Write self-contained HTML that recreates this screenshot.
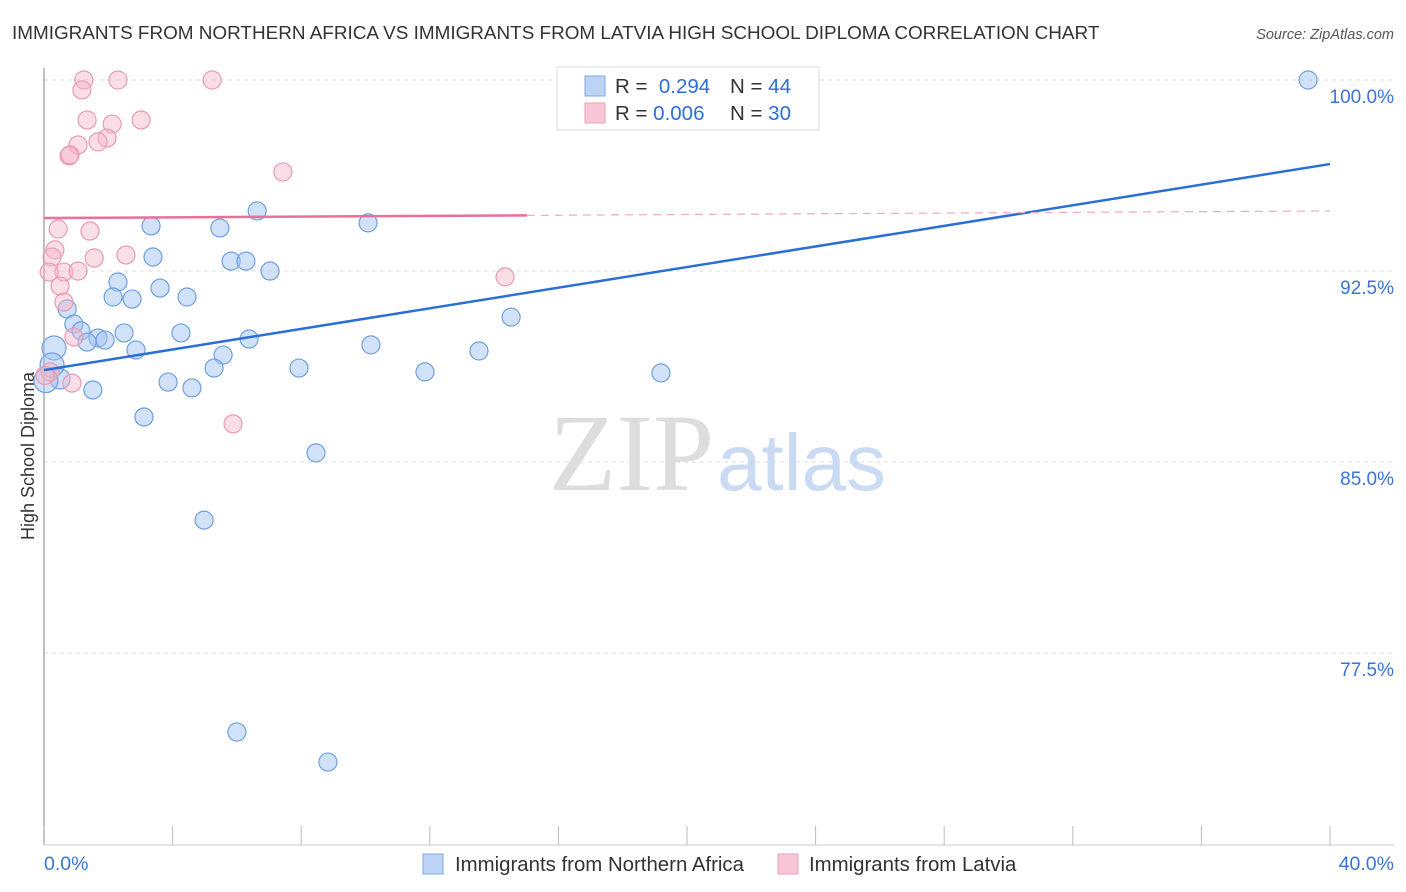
<!DOCTYPE html>
<html><head><meta charset="utf-8"><style>
body{margin:0;background:#fff;font-family:"Liberation Sans",sans-serif}
svg{display:block}
</style></head><body>
<svg id="chart" width="1406" height="892">
<text x="12" y="39" font-size="18.9" fill="#333">IMMIGRANTS FROM NORTHERN AFRICA VS IMMIGRANTS FROM LATVIA HIGH SCHOOL DIPLOMA CORRELATION CHART</text>
<text x="1394" y="39" font-size="14.5" fill="#555" text-anchor="end" font-style="italic">Source: ZipAtlas.com</text>
<g id="grid"></g>
<line x1="44" y1="68" x2="44" y2="845" stroke="#aaa" stroke-width="1.5"/>
<line x1="44" y1="845" x2="1394" y2="845" stroke="#ccc"/>
<g id="xticks"></g>
<text x="714" y="490" font-size="110" fill="#ddd" text-anchor="end" font-family="Liberation Serif,serif">ZIP</text>
<text x="717" y="490" font-size="80" fill="#c9daf2">atlas</text>
<text transform="translate(34,456) rotate(-90)" font-size="18" fill="#333" text-anchor="middle">High School Diploma</text>
<text x="44" y="870" font-size="19.5" fill="#3b74d6">0.0%</text>
<text x="1394" y="870" font-size="19.5" fill="#3b74d6" text-anchor="end">40.0%</text>
<g id="pts"></g>
<g id="lines"></g>
<g>
<rect x="557" y="67" width="262" height="63" fill="#fff" stroke="#ddd"/>
<rect x="585" y="76" width="20" height="20" fill="#bcd3f5" stroke="#7fa8e4"/>
<rect x="585" y="103" width="20" height="20" fill="#f8c6d5" stroke="#eca3ba"/>
<text x="615" y="93" font-size="20.5" fill="#333">R = <tspan fill="#2b6fd6">&#160;0.294</tspan><tspan x="730">N = </tspan><tspan fill="#2b6fd6">44</tspan></text>
<text x="615" y="120" font-size="20.5" fill="#333">R = <tspan fill="#2b6fd6">0.006</tspan><tspan x="730">N = </tspan><tspan fill="#2b6fd6">30</tspan></text>
</g>
<g>
<rect x="423" y="854" width="20" height="20" fill="#bcd3f5" stroke="#7fa8e4"/>
<text x="455" y="871" font-size="20.4" fill="#333">Immigrants from Northern Africa</text></g>
<g>
<rect x="778" y="854" width="20" height="20" fill="#f8c6d5" stroke="#eca3ba"/>
<text x="809" y="871" font-size="20.4" fill="#333">Immigrants from Latvia</text></g>
</svg>
<script>
const yTicks=[100,92.5,85,77.5];
const yTickLabels=["100.0%","92.5%","85.0%","77.5%"];
const xTicks=[0,4,8,12,16,20,24,28,32,36,40];
const blueX=[39.32,6.63,3.33,10.08,5.47,3.39,5.82,6.28,7.03,2.30,3.61,2.15,2.74,4.45,0.72,0.93,1.15,4.26,2.49,1.68,1.90,1.34,6.38,0.31,10.17,2.86,5.57,13.53,14.53,5.29,7.93,11.85,19.19,3.86,4.60,1.52,0.50,0.25,3.11,8.46,4.98,6.00,8.83,0.06];
const blueY=[100,94.86,94.27,94.39,94.19,93.05,92.89,92.89,92.5,92.07,91.83,91.48,91.4,91.48,91.01,90.42,90.15,90.07,90.07,89.87,89.79,89.71,89.83,89.48,89.6,89.4,89.2,89.36,90.69,88.69,88.69,88.54,88.5,88.14,87.91,87.83,88.26,88.81,86.77,85.36,82.72,74.4,73.22,88.2];
const blueR=[9,9,9,9,9,9,9,9,9,9,9,9,9,9,9,9,9,9,9,9,9,9,9,12,9,9,9,9,9,9,9,9,9,9,9,9,10,12,9,9,9,9,9,12];
const pinkX=[1.24,2.30,5.23,1.18,1.34,3.02,2.12,1.06,1.96,1.68,0.78,0.81,7.43,0.44,1.43,0.34,0.25,1.56,2.55,0.62,1.06,0.16,0.50,0.62,0.93,0.19,0.87,5.88,14.34,0.03];
const pinkY=[100,100,100,99.61,98.43,98.43,98.27,97.45,97.72,97.57,97.02,97.06,96.39,94.15,94.07,93.33,93.05,93.01,93.13,92.46,92.5,92.46,91.91,91.28,89.91,88.54,88.1,86.5,92.27,88.4];
const blueTrend=[88.61,96.70];
const pinkTrend=[94.58,94.86];
const pinkSolidEnd=15.02;
const X=v=>44+v*32.15, Y=v=>80+(100-v)*25.47;
const NS="http://www.w3.org/2000/svg";
function mk(t,a,p){const e=document.createElementNS(NS,t);for(const k in a)e.setAttribute(k,a[k]);p.appendChild(e);return e;}
const grid=document.getElementById('grid');
yTicks.forEach((t,i)=>{
 const l=mk('line',{x1:44,x2:1394,y1:Y(t),y2:Y(t),stroke:'#ddd','stroke-dasharray':'4,4'},grid);
 
 
 const tx=mk('text',{x:1394,y:Y(t)+23,'font-size':19,fill:'#3b74d6','text-anchor':'end'},grid);
 tx.textContent=yTickLabels[i];
 
 
});
const xt=document.getElementById('xticks');
xTicks.forEach(t=>{
 const l=mk('line',{x1:X(t),x2:X(t),y1:826,y2:845,stroke:'#bbb'},xt);
 
 
});
const pts=document.getElementById('pts');
blueX.forEach((v,i)=>{
 const c=mk('circle',{cx:X(v),cy:Y(blueY[i]),r:blueR[i],fill:'rgba(164,196,240,0.5)',stroke:'#6fa0e2','stroke-width':1.2},pts);
 
 
});
pinkX.forEach((v,i)=>{
 const c=mk('circle',{cx:X(v),cy:Y(pinkY[i]),r:9,fill:'rgba(244,182,200,0.45)',stroke:'#eb9ab3','stroke-width':1.2},pts);
 
 
});
const lines=document.getElementById('lines');
const pAt=x=>pinkTrend[0]+(pinkTrend[1]-pinkTrend[0])*x/40;
let l1=mk('line',{x1:X(0),y1:Y(blueTrend[0]),x2:X(40),y2:Y(blueTrend[1]),stroke:'#2b6fd6','stroke-width':2.5},lines);


let l2=mk('line',{x1:X(0),y1:Y(pAt(0)),x2:X(pinkSolidEnd),y2:Y(pAt(pinkSolidEnd)),stroke:'#e8709a','stroke-width':2.5},lines);


let l3=mk('line',{x1:X(pinkSolidEnd),y1:Y(pAt(pinkSolidEnd)),x2:X(40),y2:Y(pAt(40)),stroke:'#f0a8c0','stroke-width':1.2,'stroke-dasharray':'8,6'},lines);


</script>
</body></html>
